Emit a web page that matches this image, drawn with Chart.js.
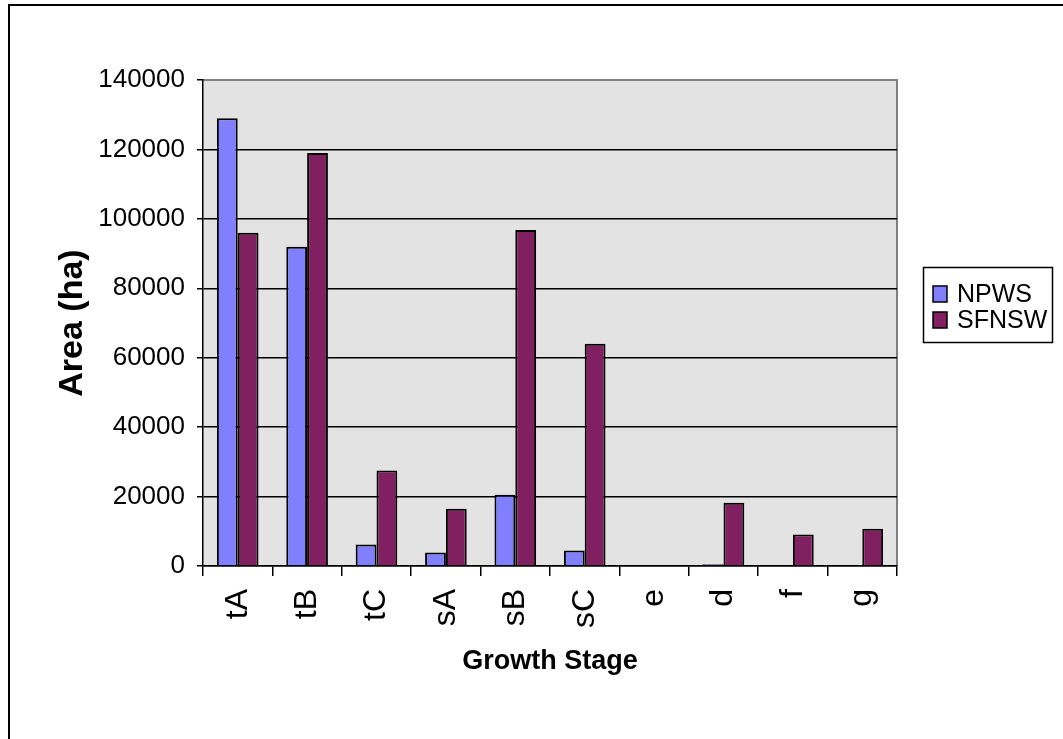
<!DOCTYPE html>
<html>
<head>
<meta charset="utf-8">
<script src="https://cdn.jsdelivr.net/npm/chart.js@4.4.1/dist/chart.umd.min.js"></script>
<style>
  html, body { margin: 0; padding: 0; background: #fff; }
  #wrap { position: relative; width: 1063px; height: 739px; }
</style>
</head>
<body>
<div id="wrap"><canvas id="c" width="1063" height="739"></canvas></div>
<script>
// ---- DATA ----
const categories = ['tA', 'tB', 'tC', 'sA', 'sB', 'sC', 'e', 'd', 'f', 'g'];
const npws   = [129000, 92000, 6200, 3900, 20500, 4500, 0, 500, 0, 0];
const sfnsw  = [96000, 119000, 27500, 16500, 96800, 64000, 0, 18200, 9100, 10700];
const seriesNames = ['NPWS', 'SFNSW'];
const yTicks = [0, 20000, 40000, 60000, 80000, 100000, 120000, 140000];
const xTitle = 'Growth Stage';
const yTitle = 'Area (ha)';

// ---- STYLE ----
const COLORS = ['#8080FF', '#802060'];
const PLOT_BG = '#E3E3E3';
const FONT = '"Liberation Sans", Arial, sans-serif';

const decor = {
  id: 'decor',
  beforeDraw(chart) {
    const { ctx, chartArea: a } = chart;
    ctx.save();
    ctx.fillStyle = '#fff';
    ctx.fillRect(0, 0, chart.width, chart.height);
    ctx.fillStyle = PLOT_BG;
    ctx.fillRect(a.left, a.top, a.right - a.left, a.bottom - a.top);
    ctx.strokeStyle = '#808080';
    ctx.lineWidth = 2;
    ctx.beginPath();
    ctx.moveTo(a.left, a.top);
    ctx.lineTo(a.right, a.top);
    ctx.lineTo(a.right, a.bottom);
    ctx.stroke();
    // outer frame (only top and left visible)
    ctx.strokeStyle = '#000';
    ctx.lineWidth = 2;
    ctx.beginPath();
    ctx.moveTo(9, chart.height);
    ctx.lineTo(9, 5);
    ctx.lineTo(chart.width, 5);
    ctx.stroke();
    ctx.restore();
  },
  afterDraw(chart) {
    const { ctx } = chart;
    const box = { x: 923.5, y: 267.5, w: 129, h: 75 };
    const rows = [294, 320];
    ctx.save();
    ctx.strokeStyle = '#000';
    ctx.lineWidth = 1.5;
    ctx.strokeRect(box.x, box.y, box.w, box.h);
    ctx.font = '25px ' + FONT;
    ctx.textBaseline = 'middle';
    ctx.textAlign = 'left';
    chart.data.datasets.forEach((ds, i) => {
      const cy = rows[i];
      ctx.fillStyle = ds.backgroundColor;
      ctx.fillRect(933, cy - 8, 14, 16);
      ctx.lineWidth = 1.5;
      ctx.strokeStyle = '#000';
      ctx.strokeRect(933, cy - 8, 14, 16);
      ctx.fillStyle = '#000';
      ctx.fillText(ds.label, 957, cy + 1);
    });
    ctx.restore();
  }
};

new Chart(document.getElementById('c'), {
  type: 'bar',
  data: {
    labels: categories,
    datasets: [
      { label: seriesNames[0], data: npws, backgroundColor: COLORS[0], borderColor: '#000', borderWidth: 2 },
      { label: seriesNames[1], data: sfnsw, backgroundColor: COLORS[1], borderColor: '#000', borderWidth: 2 }
    ]
  },
  options: {
    responsive: false,
    animation: false,
    devicePixelRatio: 1,
    layout: { padding: { top: 80, right: 166, bottom: 0, left: 0 } },
    datasets: { bar: { categoryPercentage: 0.6, barPercentage: 1.0 } },
    plugins: { legend: { display: false }, tooltip: { enabled: false } },
    scales: {
      x: {
        type: 'category',
        grid: { display: true, offset: true, drawOnChartArea: false, drawTicks: true, tickLength: 10, color: '#000', lineWidth: 1.5 },
        border: { display: true, color: '#000', width: 1.5 },
        ticks: {
          color: '#000', font: { family: FONT, size: 32 },
          minRotation: 90, maxRotation: 90, padding: 13, autoSkip: false
        },
        title: {
          display: true, text: xTitle, color: '#000',
          font: { family: FONT, size: 27, weight: 'bold' },
          padding: { top: 0, bottom: 61 }
        },
        afterFit(scale) { scale.height = 173; }
      },
      y: {
        min: 0, max: 140000,
        afterBuildTicks(scale) { scale.ticks = yTicks.map(v => ({ value: v })); },
        grid: {
          color: (c) => (c.tick && c.tick.value === 140000) ? 'rgba(0,0,0,0)' : '#000',
          tickColor: '#000', lineWidth: 1.5, tickLength: 6, drawTicks: true
        },
        border: { display: true, color: '#000', width: 1.5 },
        ticks: {
          color: '#000', font: { family: FONT, size: 26 }, padding: 12,
          callback: (v) => String(v)
        },
        title: {
          display: true, text: yTitle, color: '#000',
          font: { family: FONT, size: 34, weight: 'bold' },
          padding: { top: 52, bottom: 0 }
        },
        afterFit(scale) { scale.width = 203; }
      }
    }
  },
  plugins: [decor]
});
</script>
</body>
</html>
